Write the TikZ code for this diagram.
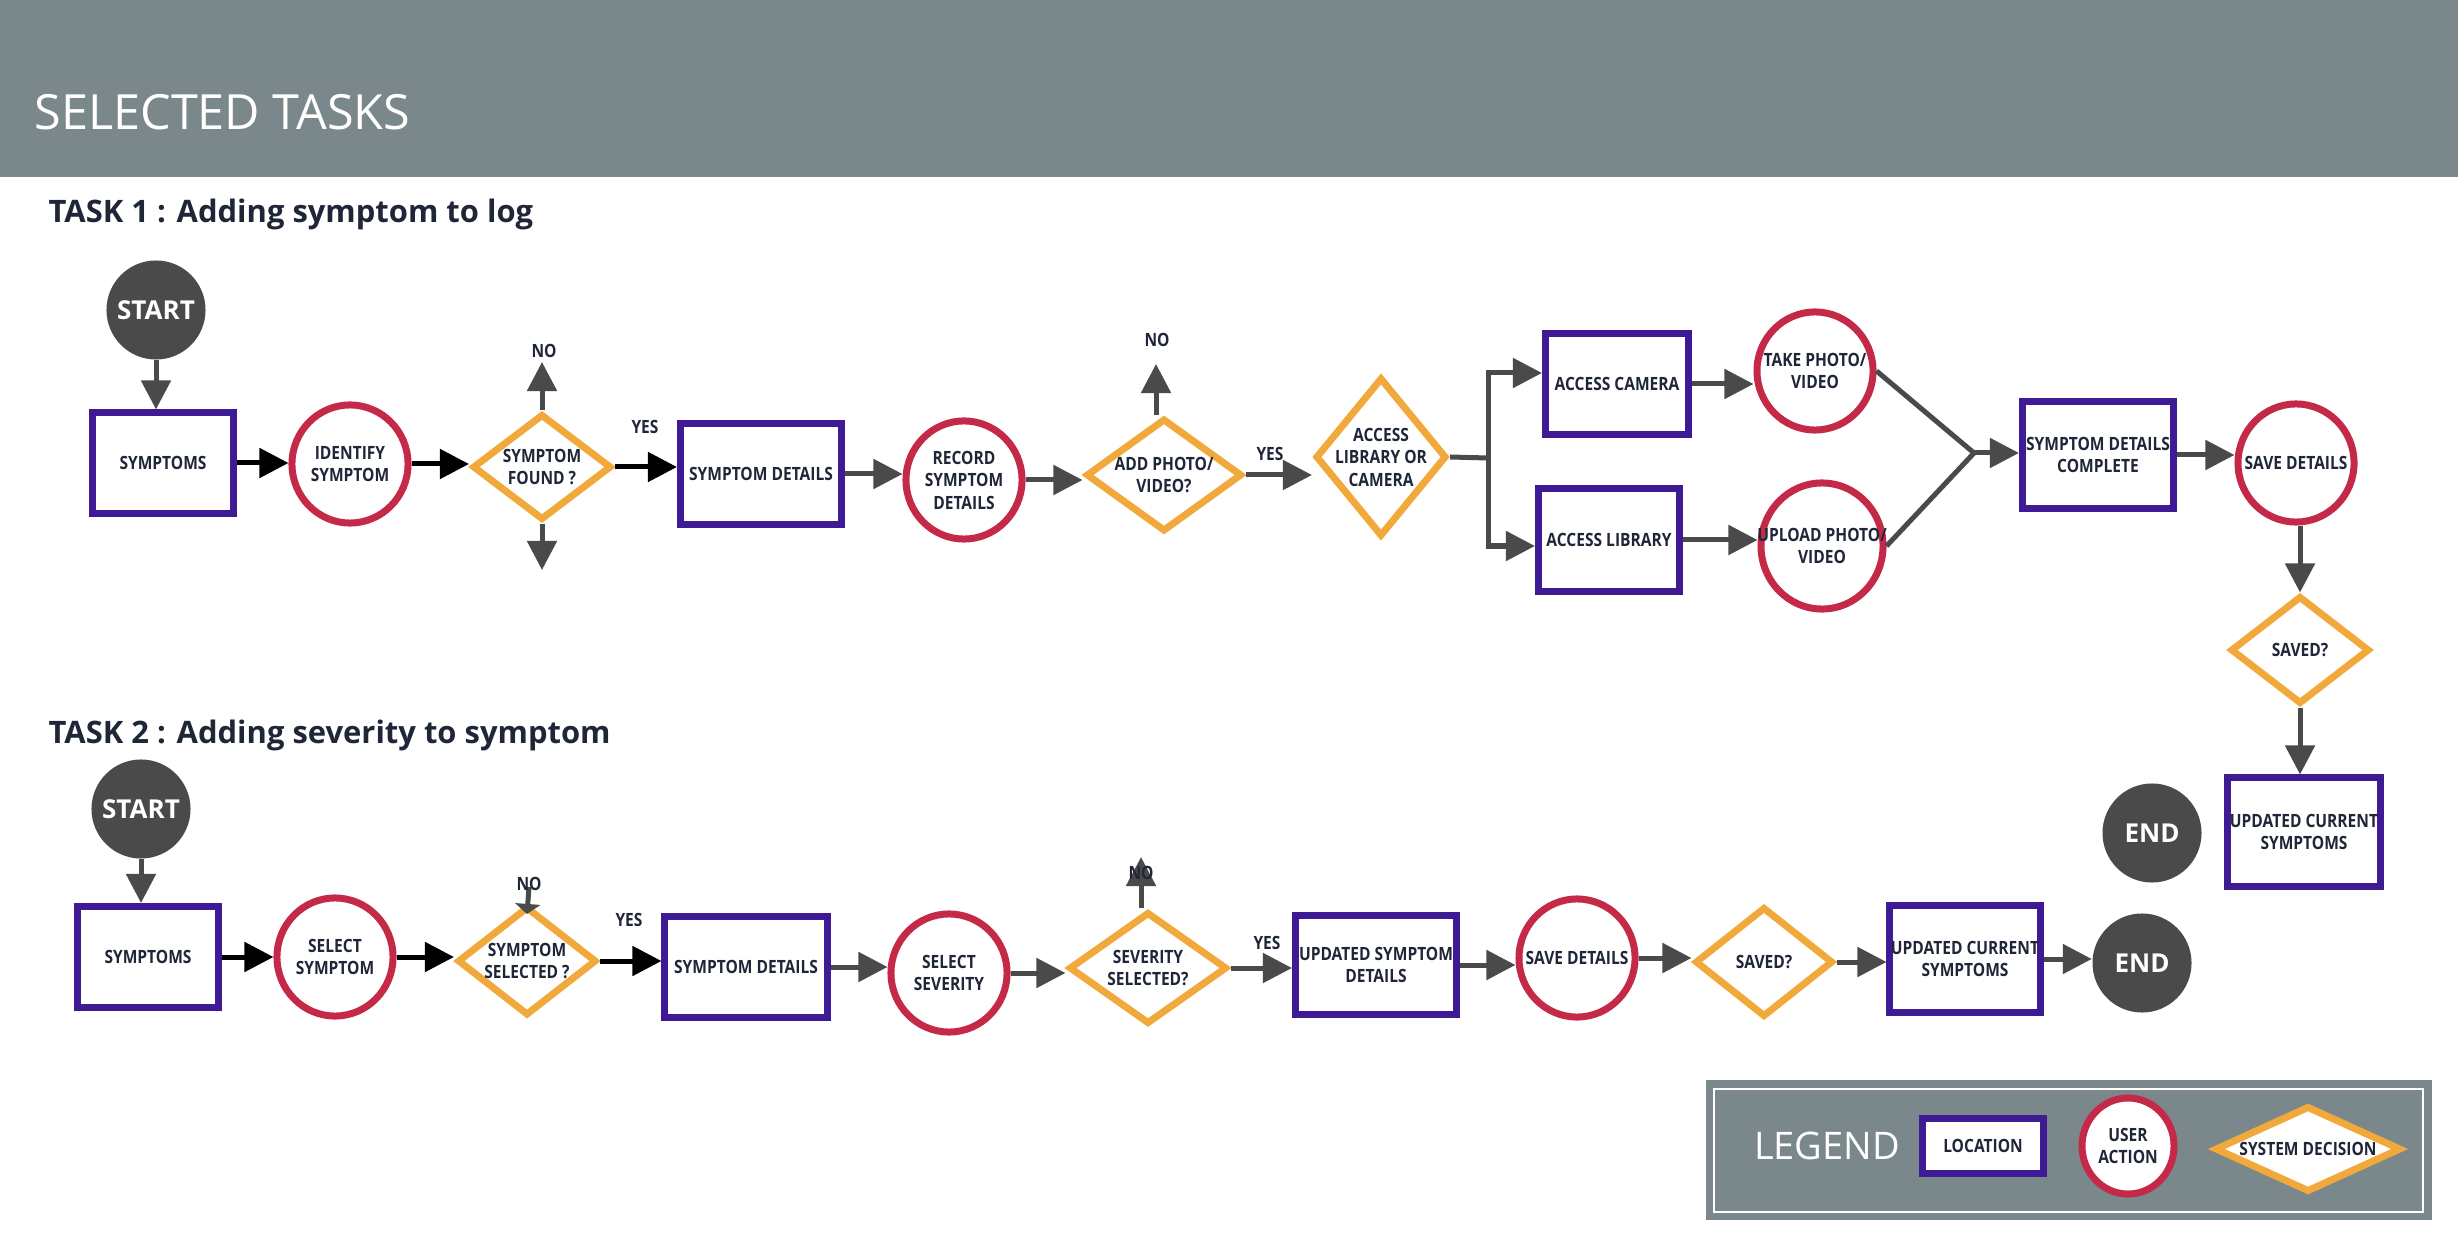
\documentclass[tikz,border=0pt]{standalone}
\usepackage{fontspec}
\setmainfont{Open Sans}
\newfontfamily\narrowfont{Open Sans}[FakeStretch=0.85]
\usetikzlibrary{shapes.geometric,arrows.meta}
\definecolor{headgray}{HTML}{7B888B}
\definecolor{inknavy}{HTML}{1F2638}
\definecolor{locpurple}{HTML}{3F1A95}
\definecolor{actred}{HTML}{C42A47}
\definecolor{decorange}{HTML}{F2A93B}
\definecolor{termgray}{HTML}{4A4A4A}

\begin{document}
\begin{tikzpicture}[x=0.01cm, y=-0.01cm,
    every node/.style={font=\narrowfont\bfseries\fontsize{5.2}{6.4}\selectfont, text=inknavy, align=center, inner sep=0pt},
    location/.style={rectangle, draw=locpurple, line width=0.07cm, fill=white, minimum height=1.00cm},
    action/.style={ellipse, draw=actred, line width=0.07cm, fill=white, inner xsep=-0.25cm, minimum width=1.16cm, minimum height=1.18cm},
    decision/.style={diamond, draw=decorange, line width=0.07cm, fill=white, inner sep=-0.2cm},
    terminal/.style={circle, fill=termgray, minimum size=0.99cm, text=white, font=\normalfont\bfseries\fontsize{7.4}{8}\selectfont},
    blackarrow/.style={line width=0.05cm, draw=black, -{Triangle[length=0.29cm,width=0.29cm]}},
    grayarrow/.style={line width=0.05cm, draw=termgray, -{Triangle[length=0.29cm,width=0.29cm]}},
    grayline/.style={line width=0.05cm, draw=termgray},
    tasktitle/.style={anchor=base west, font=\normalfont\bfseries\fontsize{8.8}{10}\selectfont}]
  \useasboundingbox (0,0) rectangle (2458,1240);
  % Header band
  \fill[headgray] (0,0) rectangle (2458,177);
  \node[anchor=base west, text=white, font=\normalfont\fontsize{13.8}{16}\selectfont] (heading) at (34,130) {SELECTED TASKS};
  % Task titles
  \node[tasktitle] (taskA) at (48,223) {TASK 1 : Adding symptom to log};
  \node[tasktitle] (taskB) at (48,743) {TASK 2 : Adding severity to symptom};

  % Task 1 nodes
  \node[terminal] (startA) at (156,310) {START};
  \node[location, minimum width=1.41cm] (symA) at (163,463) {SYMPTOMS};
  \node[action] (identA) at (350,464) {IDENTIFY\\SYMPTOM};
  \node[decision, minimum width=1.39cm, minimum height=1.06cm] (foundA) at (542,467) {SYMPTOM\\FOUND ?};
  \node[location, minimum width=1.61cm, minimum height=1.01cm] (detA) at (761,474) {SYMPTOM DETAILS};
  \node[action] (recA) at (964,480) {RECORD\\SYMPTOM\\DETAILS};
  \node[decision, minimum width=1.56cm, minimum height=1.13cm] (photoA) at (1164,475) {ADD PHOTO/\\VIDEO?};
  \node[decision, minimum width=1.31cm, minimum height=1.59cm] (accessA) at (1381,457) {ACCESS\\LIBRARY OR\\CAMERA};
  \node[location, minimum width=1.43cm, minimum height=1.01cm] (camA) at (1617,384) {ACCESS CAMERA};
  \node[location, minimum width=1.41cm, minimum height=1.02cm] (libA) at (1609,540) {ACCESS LIBRARY};
  \node[action] (takeA) at (1815,371) {TAKE PHOTO/\\VIDEO};
  \node[action, minimum width=1.22cm, minimum height=1.26cm] (uploadA) at (1822,546) {UPLOAD PHOTO/\\VIDEO};
  \node[location, minimum width=1.51cm, minimum height=1.07cm] (completeA) at (2098,455) {SYMPTOM DETAILS\\COMPLETE};
  \node[action] (saveA) at (2296,463) {SAVE DETAILS};
  \node[decision, minimum width=1.39cm, minimum height=1.08cm] (savedA) at (2300,650) {SAVED?};
  \node[location, minimum width=1.52cm, minimum height=1.08cm] (currentA) at (2304,832) {UPDATED CURRENT\\SYMPTOMS};
  \node[terminal] (endA) at (2152,833) {END};

  % Task 1 connectors
  \draw[grayarrow] (startA.south) -- (startA.south |- symA.north);
  \foreach \a/\b in {symA/identA, identA/foundA, foundA/detA}
    \draw[blackarrow] (\a.east) -- (\a.east -| \b.west);
  \foreach \a/\b in {detA/recA, recA/photoA, photoA/accessA, camA/takeA, libA/uploadA, completeA/saveA}
    \draw[grayarrow] (\a.east) -- (\a.east -| \b.west);
  \node (yesA) at (645,427) {YES};
  \node (yesB) at (1270,454) {YES};
  \coordinate (noTipA) at (542,362);
  \draw[grayarrow] (foundA.north) -- (noTipA);
  \node (noA) at (544,351) {NO};
  \coordinate (downTipA) at (542,570);
  \draw[grayarrow] (foundA.south) -- (downTipA);
  \coordinate (noTipB) at (1156,364);
  \draw[grayarrow] (noTipB |- photoA.north) -- (noTipB);
  \node (noB) at (1157,340) {NO};
  % Fork to camera / library
  \coordinate (forkA) at (1488,458);
  \draw[grayline] (accessA.east) -- (forkA);
  \draw[grayarrow] (forkA) |- ([yshift=0.11cm]camA.west);
  \draw[grayarrow] (forkA) |- ([yshift=-0.06cm]libA.west);
  % Merge into complete
  \coordinate (mergeA) at (1974,453);
  \draw[grayline] (takeA.east) -- (mergeA);
  \draw[grayline] (uploadA.east) -- (mergeA);
  \draw[grayarrow] (mergeA) -- (mergeA -| completeA.west);
  % Down the right side
  \draw[grayarrow] (savedA.north |- saveA.south) -- (savedA.north);
  \draw[grayarrow] (savedA.south) -- (savedA.south |- currentA.north);

  % Task 2 nodes
  \node[terminal] (startB) at (141,809) {START};
  \node[location, minimum width=1.41cm, minimum height=1.01cm] (symB) at (148,957) {SYMPTOMS};
  \node[action] (selB) at (335,957) {SELECT\\SYMPTOM};
  \node[decision, minimum width=1.39cm, minimum height=1.09cm] (foundB) at (527,961) {SYMPTOM\\SELECTED ?};
  \node[location, minimum width=1.62cm, minimum height=1.01cm] (detB) at (746,967) {SYMPTOM DETAILS};
  \node[action] (sevB) at (949,973) {SELECT\\SEVERITY};
  \node[decision, minimum width=1.58cm, minimum height=1.12cm] (sevdB) at (1148,968) {SEVERITY\\SELECTED?};
  \node[location, minimum width=1.61cm, minimum height=0.99cm] (updB) at (1376,965) {UPDATED SYMPTOM\\DETAILS};
  \node[action] (saveB) at (1577,958) {SAVE DETAILS};
  \node[decision, minimum width=1.38cm, minimum height=1.10cm] (savedB) at (1764,962) {SAVED?};
  \node[location, minimum width=1.50cm, minimum height=1.07cm] (currentB) at (1965,959) {UPDATED CURRENT\\SYMPTOMS};
  \node[terminal] (endB) at (2142,963) {END};

  % Task 2 connectors
  \draw[grayarrow] (startB.south) -- (startB.south |- symB.north);
  \foreach \a/\b in {symB/selB, selB/foundB, foundB/detB}
    \draw[blackarrow] (\a.east) -- (\a.east -| \b.west);
  \foreach \a/\b in {detB/sevB, sevB/sevdB, sevdB/updB, updB/saveB, saveB/savedB, savedB/currentB, currentB/endB}
    \draw[grayarrow] (\a.east) -- (\a.east -| \b.west);
  \node (yesC) at (629,920) {YES};
  \node (yesD) at (1267,943) {YES};
  \coordinate (noStemC) at (529,887);
  \draw[grayarrow, -{Triangle[length=0.1cm,width=0.25cm]}] (noStemC) -- ([yshift=-0.11cm]foundB.north);
  \node (noC) at (529,884) {NO};
  \coordinate (noTipD) at (1141,857);
  \draw[grayarrow] (noTipD |- sevdB.north) -- (noTipD);
  \node (noD) at (1141,873) {NO};

  % Legend
  \fill[headgray] (1706,1080) rectangle (2432,1220);
  \draw[white, line width=0.02cm] (1714,1089) rectangle (2423,1212);
  \node[text=white, font=\normalfont\fontsize{10.8}{12}\selectfont] (legendT) at (1827,1146) {LEGEND};
  \node[location, minimum width=1.20cm, minimum height=0.55cm] (keyLoc) at (1983,1146) {LOCATION};
  \node[action, minimum width=0.92cm, minimum height=0.96cm] (keyAct) at (2128,1146) {USER\\ACTION};
  \node[decision, minimum width=1.86cm, minimum height=0.86cm] (keyDec) at (2308,1149) {SYSTEM DECISION};
\end{tikzpicture}
\end{document}
